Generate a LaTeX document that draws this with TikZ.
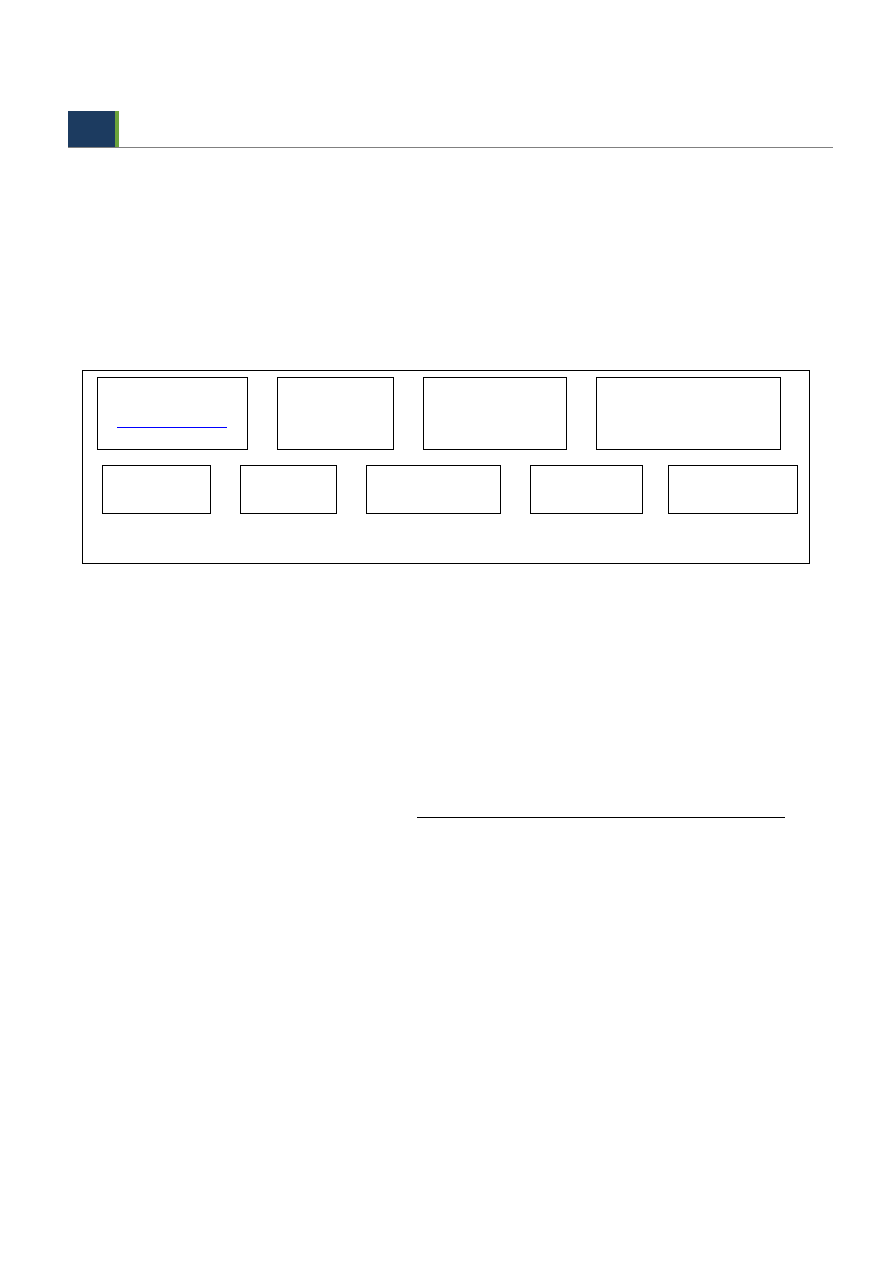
\documentclass[tikz,border=0pt]{standalone}
\usepackage{tikz}
\usetikzlibrary{positioning}
\definecolor{headblue}{HTML}{1C3B60}
\definecolor{headgreen}{HTML}{6CA33B}

\begin{document}
\begin{tikzpicture}[x=1pt,y=-1pt,line width=0.9pt]
    \tikzstyle{box}=[draw=black,anchor=north west,inner sep=0pt,outer sep=0pt];
    \tikzstyle{frame box}=[box,minimum width=727pt,minimum height=193pt];
    \tikzstyle{upper box}=[box,minimum height=72pt];
    \tikzstyle{lower box}=[box,minimum height=48pt];
    \tikzstyle{rule}=[draw=black,line width=1pt];

    \useasboundingbox (0,0) rectangle (893,1262);

    % Heading bar with the rule under it
    \fill[headblue] (68,111) rectangle (115,147);
    \fill[headgreen] (115,111) rectangle (119,147);
    \coordinate (R-start) at (68,147.5);
    \coordinate (R-end) at (833,147.5);
    \draw[gray,line width=1.3pt] (R-start) -- (R-end);

    % The outer frame
    \node[frame box] (F) at (82,370) {};

    % Draw the upper row of boxes
    \foreach \name / \x / \w in {1/97/150,2/277/116.5,3/423/143.5,4/596/184.5}
    \node[upper box,minimum width=\w pt] (T-\name) at (\x,377) {};

    % Draw the lower row of boxes
    \foreach \name / \x / \w in {1/102/108,2/240/96,3/366/134,4/530/112,5/668/129}
    \node[lower box,minimum width=\w pt] (B-\name) at (\x,465) {};

    % Blue line inside the first box
    \coordinate (U-start) at ([xshift=20pt,yshift=22pt]T-1.south west);
    \coordinate (U-end) at ([xshift=-20pt,yshift=22pt]T-1.south east);
    \draw[blue,line width=1pt] (U-start) -- (U-end);

    % Line below the frame
    \coordinate (L-start) at (417,817);
    \coordinate (L-end) at (785,817);
    \draw[rule] (L-start) -- (L-end);
\end{tikzpicture}
\end{document}
